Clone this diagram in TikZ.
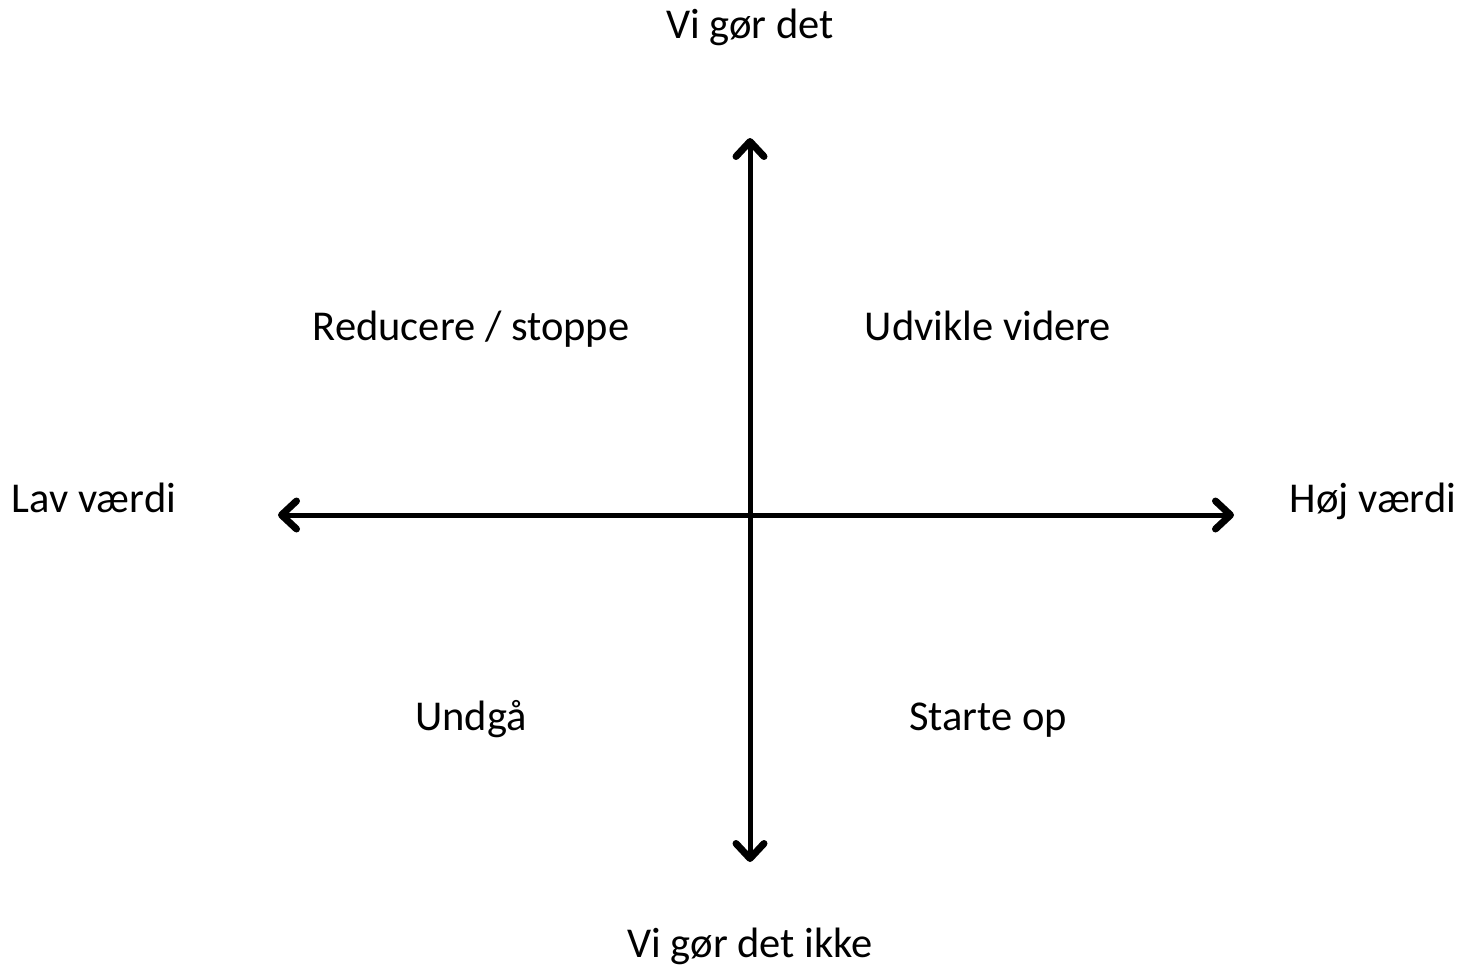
\documentclass[tikz,border=0pt]{standalone}
\usepackage{fontspec}
\setmainfont{Carlito}
\usetikzlibrary{arrows.meta}
\begin{document}
\begin{tikzpicture}[x=1pt,y=-1pt,
  lbl/.style={anchor=base,inner sep=0pt,font=\fontsize{42.5}{50}\selectfont},
  axis/.style={line width=5pt,{Straight Barb[length=15pt,width=28pt,line width=7pt,round]}-{Straight Barb[length=15pt,width=28pt,line width=7pt,round]}}]
\useasboundingbox (0,0) rectangle (1460,969);
\coordinate (top) at (750,138);
\coordinate (bot) at (750,862);
\coordinate (left) at (278,515);
\coordinate (right) at (1234,515);
\draw[axis] (bot) -- (top);
\draw[axis] (left) -- (right);
\node[lbl] (vg) at (750,38) {Vi gør det};
\node[lbl] (vgi) at (750,957) {Vi gør det ikke};
\node[lbl] (lav) at (94,512) {Lav værdi};
\node[lbl] (hoj) at (1373,512) {Høj værdi};
\node[lbl] (red) at (471,340) {Reducere / stoppe};
\node[lbl] (udv) at (988,340) {Udvikle videre};
\node[lbl] (und) at (471,730) {Undgå};
\node[lbl] (sta) at (988,730) {Starte op};
\end{tikzpicture}
\end{document}
